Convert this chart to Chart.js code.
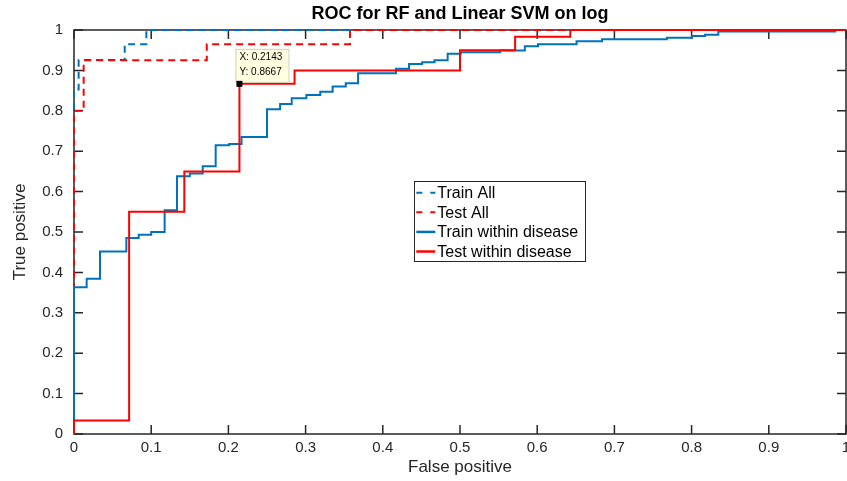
<!DOCTYPE html>
<html>
<head>
<meta charset="utf-8">
<script src="https://cdn.jsdelivr.net/npm/chart.js@4.4.0/dist/chart.umd.min.js"></script>
<style>
  html, body { margin: 0; padding: 0; background: #fff; }
</style>
</head>
<body>
<canvas id="roc" width="847" height="481"></canvas>
<script>
// ROC curves. Each point is a corner where the curve
// steps up; the line is drawn with stepped:'before' (right first, then up).
const trainAllFpr = [0, 0, 0.006, 0.0657, 0.0937, 1];
const trainAllTpr = [0, 0.853, 0.926, 0.965, 1, 1];

const testAllFpr = [0, 0, 0.0125, 0.172, 0.3575, 1];
const testAllTpr = [0, 0.8, 0.925, 0.965, 1, 1];

const trainDisFpr = [0, 0, 0.0164, 0.0337, 0.0678, 0.0838, 0.100, 0.1174, 0.1334, 0.150,
  0.1667, 0.1835, 0.201, 0.217, 0.250, 0.267, 0.282, 0.301, 0.319, 0.335,
  0.352, 0.368, 0.417, 0.434, 0.451, 0.467, 0.484, 0.501, 0.552, 0.584,
  0.601, 0.651, 0.684, 0.768, 0.8005, 0.8174, 0.8346, 0.986, 1];
const trainDisTpr = [0, 0.363, 0.384, 0.452, 0.485, 0.493, 0.5, 0.554, 0.638, 0.645,
  0.663, 0.715, 0.718, 0.735, 0.804, 0.817, 0.831, 0.839, 0.847, 0.860,
  0.868, 0.893, 0.904, 0.916, 0.920, 0.925, 0.941, 0.945, 0.949, 0.960,
  0.965, 0.972, 0.977, 0.981, 0.985, 0.988, 0.996, 1, 1];

const testDisFpr = [0, 0, 0.0714, 0.1429, 0.2143, 0.2857, 0.5, 0.5714, 0.6429, 1];
const testDisTpr = [0, 0.0333, 0.55, 0.65, 0.8667, 0.9, 0.95, 0.9833, 1, 1];

const xTicks = [0, 0.1, 0.2, 0.3, 0.4, 0.5, 0.6, 0.7, 0.8, 0.9, 1];
const yTicks = [0, 0.1, 0.2, 0.3, 0.4, 0.5, 0.6, 0.7, 0.8, 0.9, 1];

const legendNames = ['Train All', 'Test All', 'Train within disease', 'Test within disease'];

// data tip shown on the test curve
const tipX = 0.2143;
const tipY = 0.8667;

const BLUE = '#0072BD';
const RED = '#FF0000';
const INK = '#262626';
const FONT = "'Liberation Sans', Arial, Helvetica, sans-serif";

function pts(xs, ys) {
  return xs.map((v, i) => ({ x: v, y: ys[i] }));
}

// frame, inward ticks, title, data tip and the boxed legend
const extras = {
  id: 'extras',
  beforeDatasetsDraw(chart) {
    const { ctx, chartArea: a, scales: { x, y } } = chart;
    ctx.save();
    ctx.strokeStyle = INK;
    ctx.lineWidth = 1.5;
    ctx.strokeRect(a.left, a.top, a.right - a.left, a.bottom - a.top);
    ctx.beginPath();
    xTicks.forEach(v => {
      const px = x.getPixelForValue(v);
      ctx.moveTo(px, a.bottom); ctx.lineTo(px, a.bottom - 9);
      ctx.moveTo(px, a.top); ctx.lineTo(px, a.top + 9);
    });
    yTicks.forEach(v => {
      const py = y.getPixelForValue(v);
      ctx.moveTo(a.left, py); ctx.lineTo(a.left + 9, py);
      ctx.moveTo(a.right, py); ctx.lineTo(a.right - 9, py);
    });
    ctx.stroke();
    ctx.restore();
  },
  afterDraw(chart) {
    const { ctx, chartArea: a, scales: { x, y } } = chart;
    const w = a.right - a.left, h = a.bottom - a.top;
    ctx.save();

    // title
    ctx.fillStyle = '#000';
    ctx.font = 'bold 18px ' + FONT;
    ctx.textAlign = 'center';
    ctx.textBaseline = 'middle';
    ctx.fillText('ROC for RF and Linear SVM on log', (a.left + a.right) / 2, 14);

    // data tip
    const px = x.getPixelForValue(tipX), py = y.getPixelForValue(tipY);
    ctx.fillStyle = '#ffffe1';
    ctx.strokeStyle = '#d0d0b8';
    ctx.lineWidth = 1;
    ctx.fillRect(px - 4, py - 35, 53, 33);
    ctx.strokeRect(px - 4 + 0.5, py - 35 + 0.5, 53, 33);
    ctx.fillStyle = '#000';
    ctx.font = '10px ' + FONT;
    ctx.textAlign = 'left';
    ctx.fillText('X: ' + tipX.toFixed(4), px, py - 27);
    ctx.fillText('Y: ' + tipY.toFixed(4), px, py - 12);
    ctx.fillRect(px - 3, py - 3, 6, 6);

    // legend
    const lx = a.left + 0.4408 * w, ly = a.top + 0.3738 * h;
    ctx.fillStyle = '#fff';
    ctx.fillRect(lx, ly, 171, 80);
    ctx.strokeStyle = INK;
    ctx.lineWidth = 1;
    ctx.strokeRect(Math.round(lx) + 0.5, Math.round(ly) + 0.5, 171, 80);
    const cols = [BLUE, RED, BLUE, RED];
    legendNames.forEach((name, i) => {
      const ry = ly + 11.7 + i * 19.6;
      ctx.strokeStyle = cols[i];
      ctx.lineWidth = i < 2 ? 2 : 2.5;
      ctx.setLineDash(i < 2 ? [6, 8] : []);
      ctx.beginPath();
      ctx.moveTo(lx + 2, ry);
      ctx.lineTo(lx + 21, ry);
      ctx.stroke();
      ctx.setLineDash([]);
      ctx.fillStyle = '#000';
      ctx.font = '16px ' + FONT;
      ctx.textAlign = 'left';
      ctx.textBaseline = 'middle';
      ctx.fillText(name, lx + 23, ry + 1);
    });
    ctx.restore();
  }
};

const tickFont = { family: FONT, size: 15 };
const labelFont = { family: FONT, size: 17 };

new Chart(document.getElementById('roc'), {
  type: 'scatter',
  data: {
    datasets: [
      { label: legendNames[0], data: pts(trainAllFpr, trainAllTpr), borderColor: BLUE,
        borderWidth: 2, borderDash: [7, 5], stepped: 'before', showLine: true,
        pointRadius: 0, order: 3, clip: 6 },
      { label: legendNames[1], data: pts(testAllFpr, testAllTpr), borderColor: RED,
        borderWidth: 2, borderDash: [7, 5], stepped: 'before', showLine: true,
        pointRadius: 0, order: 2, clip: 6 },
      { label: legendNames[2], data: pts(trainDisFpr, trainDisTpr), borderColor: BLUE,
        borderWidth: 2, stepped: 'before', showLine: true,
        pointRadius: 0, order: 1, clip: 6 },
      { label: legendNames[3], data: pts(testDisFpr, testDisTpr), borderColor: RED,
        borderWidth: 2, stepped: 'before', showLine: true,
        pointRadius: 0, order: 0, clip: 6 }
    ]
  },
  options: {
    responsive: false,
    animation: false,
    devicePixelRatio: 1,
    layout: { padding: { top: 30, right: 1, left: 0, bottom: 0 } },
    plugins: {
      legend: { display: false },
      title: { display: false },
      tooltip: { enabled: false }
    },
    scales: {
      x: {
        type: 'linear', min: 0, max: 1,
        afterBuildTicks: s => { s.ticks = xTicks.map(v => ({ value: v })); },
        afterFit: s => { s.height = 47; s.paddingLeft = 0; s.paddingRight = 0; },
        grid: { display: false, drawTicks: false },
        border: { display: false },
        ticks: { color: INK, font: tickFont, padding: 5, maxRotation: 0, autoSkip: false,
                 callback: v => String(v) },
        title: { display: true, text: 'False positive', color: INK, font: labelFont,
                 padding: { top: 0, bottom: 3 } }
      },
      y: {
        type: 'linear', min: 0, max: 1,
        afterBuildTicks: s => { s.ticks = yTicks.map(v => ({ value: v })); },
        afterFit: s => { s.width = 74; s.paddingTop = 0; s.paddingBottom = 0; },
        grid: { display: false, drawTicks: false },
        border: { display: false },
        ticks: { color: INK, font: tickFont, padding: 11, autoSkip: false,
                 callback: v => String(v) },
        title: { display: true, text: 'True positive', color: INK, font: labelFont,
                 padding: { top: 10, bottom: 0 } }
      }
    }
  },
  plugins: [extras]
});
</script>
</body>
</html>
